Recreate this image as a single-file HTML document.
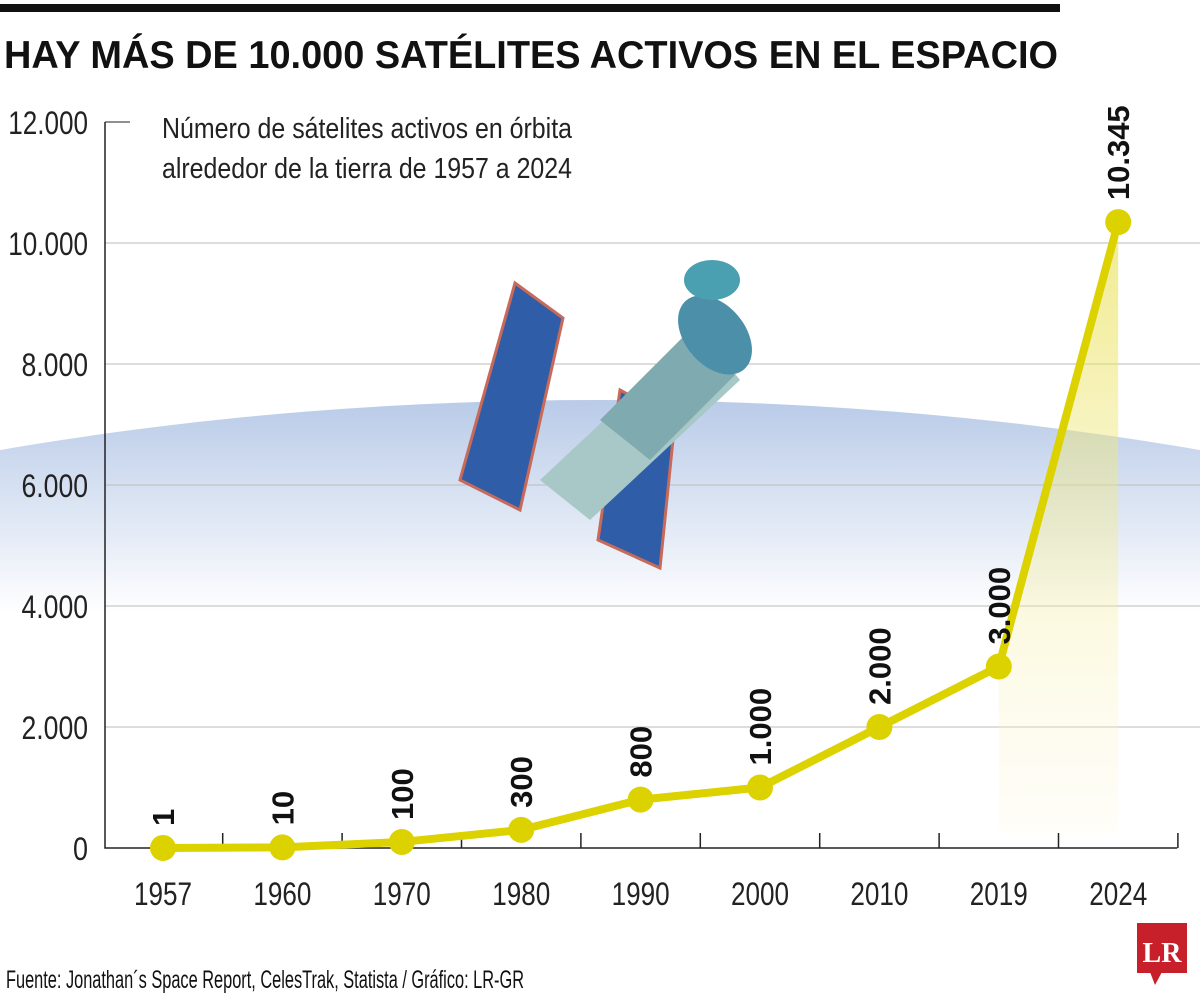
<!DOCTYPE html>
<html><head><meta charset="utf-8"><style>
body{margin:0;background:#fff;}
svg{display:block;font-family:"Liberation Sans",sans-serif;}
</style></head><body>
<svg width="1200" height="1001" viewBox="0 0 1200 1001">
<defs>
<linearGradient id="atm2" x1="0" y1="400" x2="0" y2="615" gradientUnits="userSpaceOnUse">
<stop offset="0" stop-color="#b9cbe8"/><stop offset="1" stop-color="#fff"/>
</linearGradient>
<clipPath id="earth"><ellipse cx="600" cy="1000" rx="1500" ry="600"/></clipPath>
<linearGradient id="fillg" x1="0" y1="220" x2="0" y2="840" gradientUnits="userSpaceOnUse">
<stop offset="0" stop-color="#e6dd40" stop-opacity="0.6"/><stop offset="1" stop-color="#fff8e0" stop-opacity="0.2"/>
</linearGradient>
</defs>
<rect x="0" y="0" width="1200" height="1001" fill="#fff"/>
<rect x="0" y="380" width="1200" height="240" fill="url(#atm2)" clip-path="url(#earth)"/>
<rect x="0" y="4" width="1060" height="8" fill="#111"/>
<text x="4" y="68" font-size="39" font-weight="bold" fill="#111" textLength="1054" lengthAdjust="spacingAndGlyphs">HAY MÁS DE 10.000 SATÉLITES ACTIVOS EN EL ESPACIO</text>
<text x="162" y="138" font-size="29" fill="#222" textLength="410" lengthAdjust="spacingAndGlyphs">Número de sátelites activos en órbita</text>
<text x="162" y="178" font-size="29" fill="#222" textLength="410" lengthAdjust="spacingAndGlyphs">alrededor de la tierra de 1957 a 2024</text>
<g id="grid"></g>
<g id="sat">
<polygon points="515,283 563,318 520,510 460,480" fill="#2f5da8" stroke="#c86a5a" stroke-width="3"/>
<polygon points="620,390 675,420 660,568 598,540" fill="#2f5da8" stroke="#c86a5a" stroke-width="3"/>
<polygon points="540,480 700,330 740,380 590,520" fill="#a8c8c8"/>
<polygon points="600,420 690,330 735,375 650,460" fill="#7faab0"/>
<ellipse cx="715" cy="335" rx="30" ry="45" fill="#4b8fa8" transform="rotate(-40 715 335)"/>
<ellipse cx="712" cy="280" rx="28" ry="20" fill="#4aa0b0"/>
</g>
<g id="plot"></g>
<g>
<rect x="1137" y="923" width="50" height="50" fill="#c8202a"/>
<polygon points="1150,972 1162,972 1155,985" fill="#c8202a"/>
<text x="1162" y="962" font-size="28" font-weight="bold" fill="#fff" text-anchor="middle" font-family="Liberation Serif,serif">LR</text>
</g>
<text x="6" y="988" font-size="25" fill="#111" textLength="518" lengthAdjust="spacingAndGlyphs">Fuente: Jonathan´s Space Report, CelesTrak, Statista / Gráfico: LR-GR</text>
</svg>
<script>
const categories=["1957","1960","1970","1980","1990","2000","2010","2019","2024"];
const values=[1,10,100,300,800,1000,2000,3000,10345];
const valueLabels=["1","10","100","300","800","1.000","2.000","3.000","10.345"];
const yTicks=[0,2000,4000,6000,8000,10000,12000];
const yTickLabels=["0","2.000","4.000","6.000","8.000","10.000","12.000"];
const NS="http://www.w3.org/2000/svg";
const x0=163,step=119.4,yBase=848,yScale=121/2000;
const X=i=>x0+i*step, Y=v=>yBase-v*yScale;
function mk(t,a,p){const e=document.createElementNS(NS,t);for(const k in a)e.setAttribute(k,a[k]);p.appendChild(e);return e;}
const grid=document.getElementById('grid'),plot=document.getElementById('plot');
yTicks.forEach((v,i)=>{
 if(v>0){const l=mk('line',{x1:105,x2:v==12000?130:1200,y1:Y(v),y2:Y(v),stroke:v==12000?'#222':'#bbb','stroke-width':1},grid);
 
 }
 const len=yTickLabels[i].length;
 const t=mk('text',{x:88,y:Y(v)+12,'font-size':32,'text-anchor':'end',fill:'#222',textLength:len>1?(len*13.3):15,lengthAdjust:'spacingAndGlyphs'},grid);
 t.textContent=yTickLabels[i];
 
 
});
const ax=mk('path',{d:`M105 ${Y(12000)} V${yBase} H${X(categories.length-1)+59}`,fill:'none',stroke:'#222','stroke-width':1.5},grid);


categories.forEach((c,i)=>{
 const tx=X(i)+59.7;
 const tk=mk('line',{x1:tx,x2:tx,y1:yBase-15,y2:yBase,stroke:'#222','stroke-width':1.5},grid);
 
 
 const t=mk('text',{x:X(i),y:yBase+57,'font-size':32,'text-anchor':'middle',fill:'#222',textLength:58,lengthAdjust:'spacingAndGlyphs'},grid);
 t.textContent=c;
 
 
});
const n=values.length;
const area=mk('polygon',{points:`${X(n-2)},${Y(values[n-2])} ${X(n-1)},${Y(values[n-1])} ${X(n-1)},${yBase-15} ${X(n-2)},${yBase-15}`,fill:'url(#fillg)'},plot);


const line=mk('polyline',{points:values.map((v,i)=>X(i)+','+Y(v)).join(' '),fill:'none',stroke:'#dcd200','stroke-width':8,'stroke-linejoin':'round'},plot);


values.forEach((v,i)=>{
 const c=mk('circle',{cx:X(i),cy:Y(v),r:13,fill:'#dcd200'},plot);
 
 
 const lx=X(i)+11,ly=Y(v)-22;
 const t=mk('text',{x:lx,y:ly,'font-size':31,'font-weight':'bold',fill:'#111',transform:`rotate(-90 ${lx} ${ly})`},plot);
 t.textContent=valueLabels[i];
 
 
});
</script>
</body></html>
